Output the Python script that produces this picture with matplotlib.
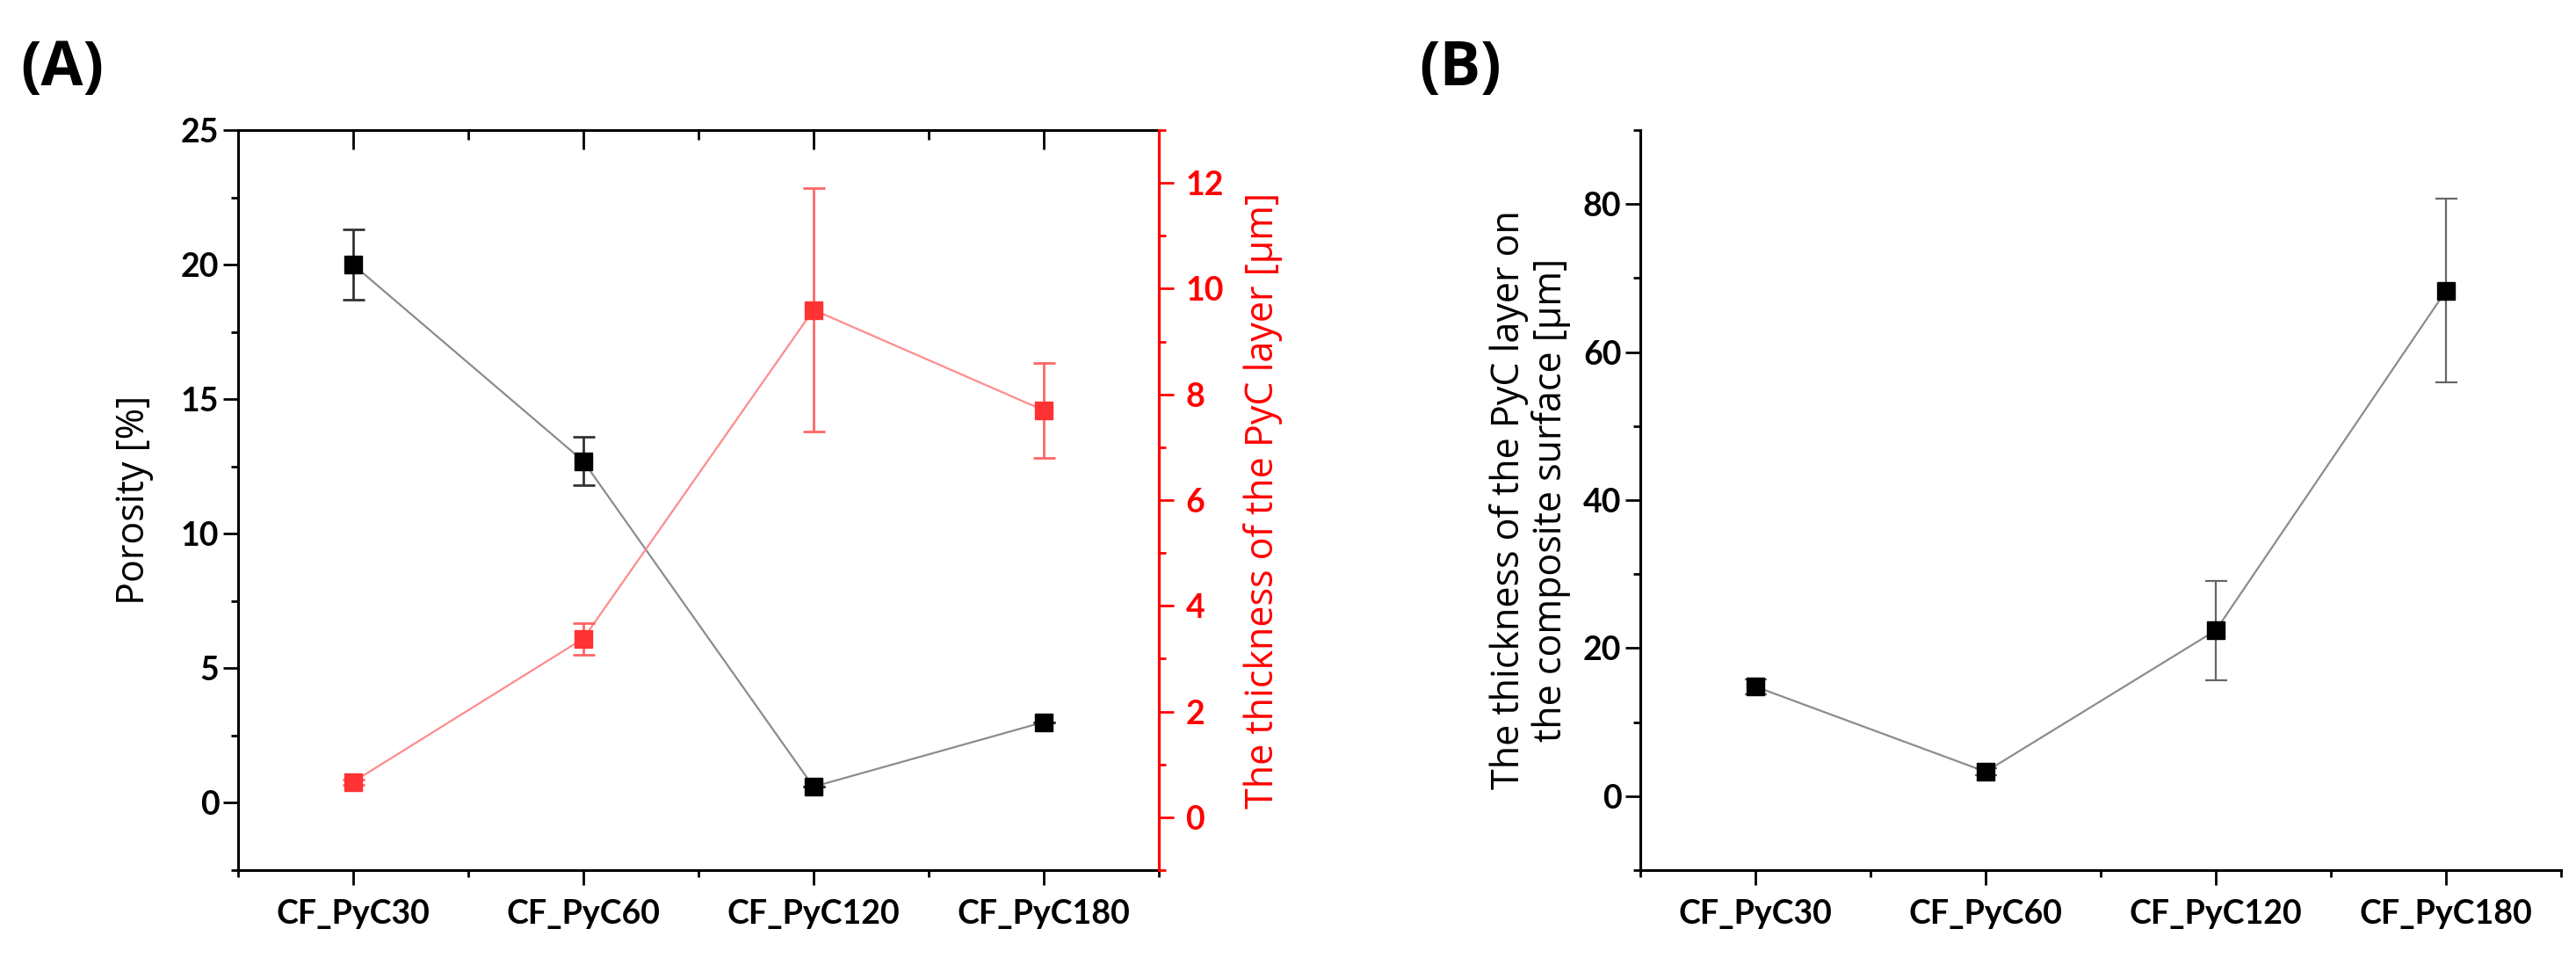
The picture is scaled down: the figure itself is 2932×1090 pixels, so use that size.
import numpy as np
import matplotlib.pyplot as plt
from matplotlib.ticker import MultipleLocator

samples = ['CF_PyC30', 'CF_PyC60', 'CF_PyC120', 'CF_PyC180']
porosity = [20.0, 12.7, 0.6, 3.0]          # %
porosity_err = [1.3, 0.9, 0.0, 0.0]
pyc_inner = [0.67, 3.38, 9.6, 7.7]         # um, layer thickness
pyc_inner_err = [0.05, 0.3, 2.3, 0.9]
pyc_surface = [14.8, 3.3, 22.4, 68.3]      # um, on composite surface
pyc_surface_err = [1.0, 0.5, 6.7, 12.4]

x = np.arange(1, len(samples) + 1)

tickfont = dict(family='Lato', weight='bold', size=27)
labfont = 'Open Sans'
labsize = 31
red = '#ff0000'

fig = plt.figure(figsize=(29.32, 10.9), dpi=100)
axA = fig.add_axes([0.0924, 0.0917, 0.3574, 0.7725])
axB = fig.add_axes([0.6368, 0.0917, 0.3574, 0.7725])


def style_ticks(ax, color='black'):
    ax.tick_params(which='major', length=12, width=2, color=color)
    ax.tick_params(which='minor', length=6, width=2, color=color)
    for lab in ax.get_yticklabels() + ax.get_xticklabels():
        lab.set_fontfamily(tickfont['family'])
        lab.set_fontweight(tickfont['weight'])
        lab.set_fontsize(tickfont['size'])


# ---- panel A ----
axA.errorbar(x, porosity, yerr=porosity_err, fmt='s', color='black',
             ms=14, ecolor='#333333', elinewidth=2, capsize=9, capthick=2, zorder=3)
axA.plot(x, porosity, '-', color='#8c8c8c', lw=1.6, zorder=2)
axA.set_xlim(0.5, 4.5)
axA.set_ylim(-2.5, 25)
axA.yaxis.set_major_locator(MultipleLocator(5))
axA.yaxis.set_minor_locator(MultipleLocator(2.5))
axA.set_xticks(x)
axA.set_xticklabels(samples)
axA.xaxis.set_minor_locator(MultipleLocator(0.5))
axA.set_ylabel('Porosity [%]', family=labfont, size=labsize, labelpad=22)
for s in axA.spines.values():
    s.set_linewidth(2.2)
style_ticks(axA)
axA.tick_params(axis='x', which='major', pad=12)
axA.tick_params(axis='x', which='both', top=False)

# top ticks point inward
sec = axA.secondary_xaxis('top')
sec.set_xticks(x)
sec.set_xticklabels([])
sec.xaxis.set_minor_locator(MultipleLocator(0.5))
sec.tick_params(which='major', direction='in', length=16, width=2)
sec.tick_params(which='minor', direction='in', length=8, width=2)

axR = axA.twinx()
axR.errorbar(x, pyc_inner, yerr=pyc_inner_err, fmt='s', color='#ff3333',
             ms=14, ecolor='#ff6666', elinewidth=2, capsize=9, capthick=2, zorder=3)
axR.plot(x, pyc_inner, '-', color='#ff8c8c', lw=1.6, zorder=2)
axR.set_ylim(-1, 13)
axR.yaxis.set_major_locator(MultipleLocator(2))
axR.yaxis.set_minor_locator(MultipleLocator(1))
axR.spines['right'].set_color(red)
axR.spines['right'].set_linewidth(2.2)
axR.spines['left'].set_visible(False)
axR.spines['top'].set_visible(False)
axR.spines['bottom'].set_visible(False)
style_ticks(axR, red)
axR.tick_params(axis='y', labelcolor=red, pad=10)
axR.set_ylabel('The thickness of the PyC layer [\u03bcm]', family=labfont, size=labsize,
               color=red, labelpad=16)

fig.text(0.008, 0.96, '(A)', family='Open Sans', weight='bold', size=50, va='top')

# ---- panel B ----
axB.errorbar(x, pyc_surface, yerr=pyc_surface_err, fmt='s', color='black',
             ms=14, ecolor='#666666', elinewidth=1.6, capsize=9, capthick=1.6, zorder=3)
axB.plot(x, pyc_surface, '-', color='#8c8c8c', lw=1.6, zorder=2)
axB.set_xlim(0.5, 4.5)
axB.set_ylim(-10, 90)
axB.yaxis.set_major_locator(MultipleLocator(20))
axB.yaxis.set_minor_locator(MultipleLocator(10))
axB.set_xticks(x)
axB.set_xticklabels(samples)
axB.xaxis.set_minor_locator(MultipleLocator(0.5))
axB.spines['top'].set_visible(False)
axB.spines['right'].set_visible(False)
for s in ('left', 'bottom'):
    axB.spines[s].set_linewidth(2.2)
style_ticks(axB)
axB.tick_params(axis='x', which='major', pad=12)
axB.set_ylabel('The thickness of the PyC layer on\nthe composite surface [\u03bcm]',
               family=labfont, size=labsize, labelpad=10, linespacing=1.1)

fig.text(0.551, 0.96, '(B)', family='Open Sans', weight='bold', size=50, va='top')

fig.savefig('out.png', dpi=100, facecolor='white')
